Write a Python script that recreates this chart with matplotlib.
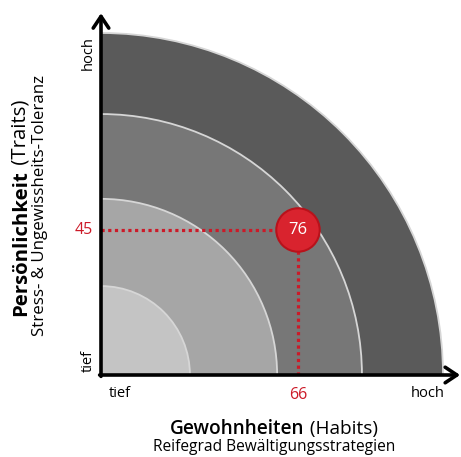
import matplotlib
matplotlib.use('Agg')
import matplotlib.pyplot as plt
from matplotlib.patches import Wedge, Circle

plt.rcParams['font.family'] = ['Open Sans', 'DejaVu Sans']

# Zonen (Viertelkreise), aussen -> innen
zone_radii = [1.0, 0.763, 0.515, 0.26]
zone_colors = ['#5a5a5a', '#777777', '#a6a6a6', '#c4c4c4']

# Position des Punkts (Anteil am Aussenradius) und Beschriftungen
point_x = 0.576
point_y = 0.424
label_x = '66'
label_y = '45'
label_point = '76'

x_title = ('Gewohnheiten', ' (Habits)')
x_sub = 'Reifegrad Bewältigungsstrategien'
y_title = ('Persönlichkeit', ' (Traits)')
y_sub = 'Stress- & Ungewissheits-Toleranz'

RED = '#cc1a28'
W, H = 461, 457
ox, oy = 101, 375      # Ursprung in Pixel (von oben)
scale = 342            # Pixel pro Aussenradius

fig = plt.figure(figsize=(W / 100, H / 100), dpi=100)
ax = fig.add_axes([0, 0, 1, 1])
ax.set_xlim(-ox / scale, (W - ox) / scale)
ax.set_ylim(-(H - oy) / scale, oy / scale)
ax.axis('off')

for r, c in zip(zone_radii, zone_colors):
    ax.add_patch(Wedge((0, 0), r, 0, 90, facecolor=c, edgecolor='#d6d6d6', lw=1.3))

# gepunktete Hilfslinien
ax.plot([0, point_x], [point_y, point_y], color=RED, lw=2.3, ls=(0, (1, 1.1)), zorder=3)
ax.plot([point_x, point_x], [0, point_y], color=RED, lw=2.3, ls=(0, (1, 1.1)), zorder=3)

ax.add_patch(Circle((point_x, point_y), 0.0635, facecolor='#d9232e', edgecolor='#b8121b',
                    lw=1.5, zorder=5))
ax.text(point_x, point_y, label_point, color='white', fontsize=12, ha='center',
        va='center', zorder=6)

# Achsen mit Pfeilen
arrow = dict(arrowstyle='->, head_length=0.6, head_width=0.4', lw=2.6, color='black',
             shrinkA=0, shrinkB=0, mutation_scale=14)
ax.annotate('', xy=(0, 1.058), xytext=(0, -0.004), arrowprops=arrow, zorder=7)
ax.annotate('', xy=(1.05, 0), xytext=(-0.004, 0), arrowprops=arrow, zorder=7)

ax.text(-0.025, point_y, label_y, color=RED, fontsize=11.5, ha='right', va='center')
ax.text(point_x, -0.058, label_x, color=RED, fontsize=11.5, ha='center', va='center')
ax.text(0.056, -0.055, 'tief', fontsize=10.5, ha='center', va='center')
ax.text(0.956, -0.055, 'hoch', fontsize=10.5, ha='center', va='center')
ax.text(-0.038, 0.94, 'hoch', fontsize=10.5, ha='center', va='center', rotation=90)
ax.text(-0.038, 0.04, 'tief', fontsize=10.5, ha='center', va='center', rotation=90)

renderer = fig.canvas.get_renderer()


def two_part(parts, cx, cy, size, weights, rotation=0):
    # zwei Textteile mit unterschiedlicher Schriftstaerke, zentriert um (cx, cy) in Pixel von oben
    texts = [fig.text(0, 0, p, fontsize=size, fontweight=w, ha='left', va='baseline',
                      rotation=rotation, rotation_mode='anchor')
             for p, w in zip(parts, weights)]
    widths = []
    for t in texts:
        t.set_rotation(0)
        widths.append(t.get_window_extent(renderer).width)
        t.set_rotation(rotation)
    total = sum(widths)
    base = size * 100 / 72 * 0.36
    if rotation == 0:
        start = cx - total / 2
        for t, w in zip(texts, [0, widths[0]]):
            t.set_position(((start + w) / W, (H - cy - base) / H))
    else:
        start = (H - cy) - total / 2
        for t, w in zip(texts, [0, widths[0]]):
            t.set_position(((cx + base) / W, (start + w) / H))


two_part(x_title, 274, 427, 13.7, ['semibold', 'normal'])
fig.text(274 / W, 1 - 447 / H, x_sub, fontsize=11.2, ha='center', va='center')
two_part(y_title, 18.5, 208, 14.7, ['bold', 'normal'], rotation=90)
fig.text(40.5 / W, 1 - 205.5 / H, y_sub, fontsize=12.2, ha='center', va='center', rotation=90)

fig.savefig('out.png', dpi=100)
